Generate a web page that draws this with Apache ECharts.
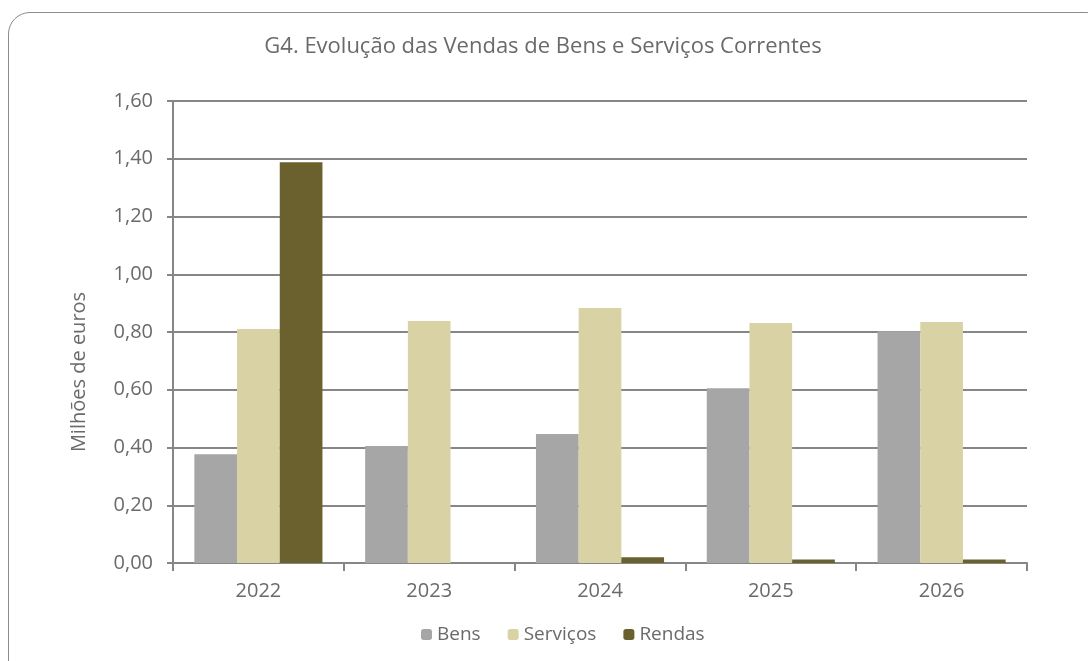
<!DOCTYPE html>
<html>
<head>
<meta charset="utf-8">
<script src="https://cdn.jsdelivr.net/npm/echarts@6/dist/echarts.min.js"></script>
<style>
  html, body { margin: 0; padding: 0; background: #fff; }
  #frame {
    position: absolute; left: 8px; top: 12px; width: 1100px; height: 680px;
    border: 1px solid #8c8c8c; border-radius: 22px; box-sizing: border-box;
  }
  #chart { position: absolute; left: 0; top: 0; width: 1088px; height: 661px; }
</style>
</head>
<body>
<div id="frame"></div>
<div id="chart"></div>
<script>
const years = ['2022', '2023', '2024', '2025', '2026']
const bens = [0.377, 0.405, 0.447, 0.605, 0.803]
const servicos = [0.81, 0.838, 0.883, 0.831, 0.835]
const rendas = [1.388, 0, 0.02, 0.012, 0.012]

const chart = echarts.init(document.getElementById('chart'))
const txt = '#6a6a6a'
const font = '"Open Sans", Lato, sans-serif'

chart.setOption({
  animation: false,
  title: {
    text: 'G4. Evolução das Vendas de Bens e Serviços Correntes',
    left: 538, top: 31, textAlign: 'center',
    textStyle: { color: txt, fontSize: 22, fontWeight: 'normal', fontFamily: font }
  },
  legend: {
    top: 620, left: 416,
    itemWidth: 11, itemHeight: 11, itemGap: 27,
    textStyle: { color: txt, fontSize: 19, fontFamily: font },
    data: ['Bens', 'Serviços', 'Rendas']
  },
  grid: { left: 173, right: 61, top: 101, bottom: 98 },
  xAxis: {
    type: 'category',
    data: years,
    axisLine: { lineStyle: { color: '#868686', width: 2 } },
    axisTick: { show: true, length: 8, lineStyle: { color: '#868686', width: 2 } },
    axisLabel: { color: txt, fontSize: 20, fontFamily: font, margin: 18 }
  },
  yAxis: {
    type: 'value',
    min: 0, max: 1.6, interval: 0.2,
    name: 'Milhões de euros',
    nameLocation: 'middle', nameGap: 84,
    // the name sits lower than the middle of the axis in the original
    nameTextStyle: { color: txt, fontSize: 20, fontFamily: font, padding: [0, 80, 0, 0] },
    axisLine: { show: true, lineStyle: { color: '#868686', width: 2 } },
    axisTick: { show: true, length: 6, lineStyle: { color: '#868686', width: 2 } },
    splitLine: { lineStyle: { color: '#868686', width: 2 } },
    axisLabel: {
      color: txt, fontSize: 20, fontFamily: font, margin: 20,
      formatter: v => v.toFixed(2).replace('.', ',')
    }
  },
  series: [
    { name: 'Bens', type: 'bar', data: bens, barGap: '0%', barCategoryGap: '25%',
      itemStyle: { color: '#a6a6a6' } },
    { name: 'Serviços', type: 'bar', data: servicos,
      itemStyle: { color: '#d9d2a4' } },
    { name: 'Rendas', type: 'bar', data: rendas,
      itemStyle: { color: '#6b612f' } }
  ]
})
</script>
</body>
</html>
